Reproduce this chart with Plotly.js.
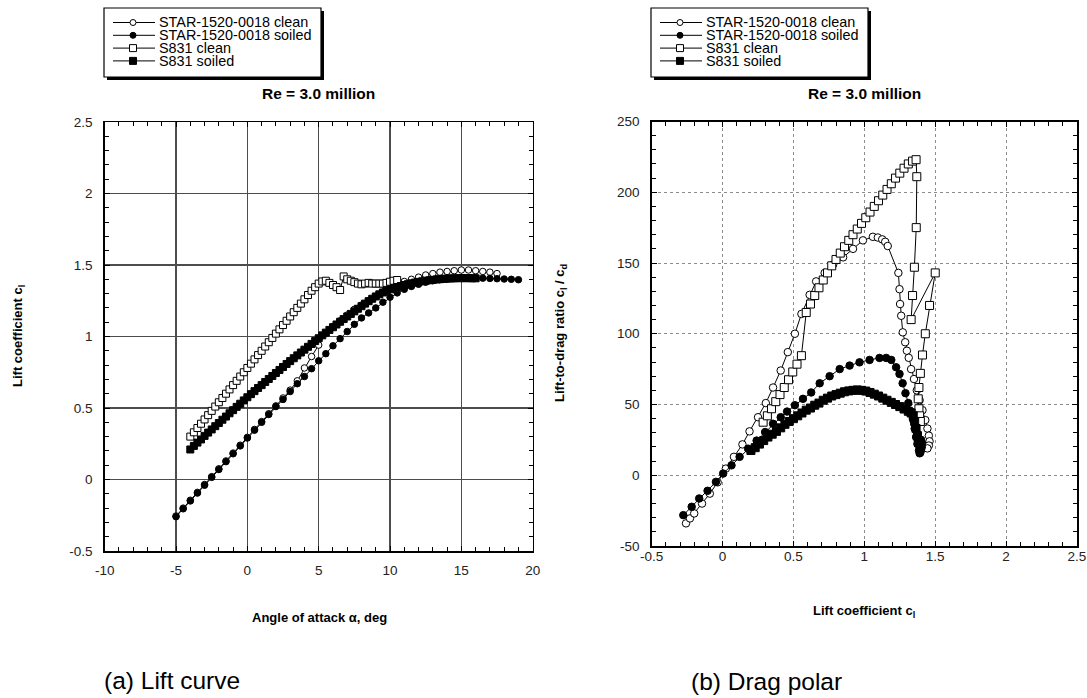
<!DOCTYPE html>
<html><head><meta charset="utf-8">
<script src="https://cdn.plot.ly/plotly-3.0.1.min.js"></script>
<style>html,body{margin:0;padding:0;background:#fff}#chart{width:1087px;height:698px}</style>
</head><body><div id="chart"></div>
<script>
// ---------------- DATA ----------------
const seriesNames = ['STAR-1520-0018 clean', 'STAR-1520-0018 soiled', 'S831 clean', 'S831 soiled'];

// (a) Lift curve: angle of attack (deg) vs lift coefficient
const alphaStarClean = [-5,-4.5,-4,-3.5,-3,-2.5,-2,-1.5,-1,-0.5,0,0.5,1,1.5,2,2.5,3,3.5,4,4.5,5,5.5,6,6.5,7,7.5,8,8.5,9,9.5,10,10.5,11,11.5,12,12.5,13,13.5,14,14.5,15,15.5,16,16.5,17,17.5];
const clStarClean = [-0.255,-0.2,-0.145,-0.09,-0.035,0.02,0.075,0.13,0.185,0.24,0.295,0.35,0.405,0.46,0.515,0.57,0.625,0.69,0.78,0.86,0.94,1.02,1.07,1.11,1.15,1.19,1.22,1.25,1.28,1.31,1.34,1.365,1.385,1.40,1.415,1.43,1.44,1.45,1.455,1.46,1.465,1.465,1.46,1.455,1.45,1.44];

const alphaStarSoiled = [-5,-4.5,-4,-3.5,-3,-2.5,-2,-1.5,-1,-0.5,0,0.5,1,1.5,2,2.5,3,3.5,4,4.5,5,5.5,6,6.5,7,7.5,8,8.5,9,9.5,10,10.5,11,11.5,12,12.5,13,13.5,14,14.5,15,15.5,16,16.5,17,17.5,18,18.5,19];
const clStarSoiled = [-0.26,-0.205,-0.15,-0.095,-0.04,0.015,0.07,0.125,0.18,0.235,0.29,0.345,0.4,0.455,0.51,0.56,0.615,0.67,0.72,0.775,0.83,0.88,0.935,0.985,1.035,1.085,1.13,1.165,1.2,1.24,1.275,1.305,1.33,1.35,1.365,1.38,1.39,1.397,1.402,1.406,1.408,1.41,1.41,1.408,1.406,1.404,1.402,1.4,1.397];

const alphaS831Clean = [-4,-3.75,-3.5,-3.25,-3,-2.75,-2.5,-2.25,-2,-1.75,-1.5,-1.25,-1,-0.75,-0.5,-0.25,0,0.25,0.5,0.75,1,1.25,1.5,1.75,2,2.25,2.5,2.75,3,3.25,3.5,3.75,4,4.25,4.5,4.75,5,5.25,5.5,5.75,6,6.25,6.5,6.75,7,7.25,7.5,7.75,8,8.25,8.5,8.75,9,9.25,9.5,9.75,10,10.25,10.5];
const clS831Clean = [0.3,0.33,0.36,0.39,0.42,0.45,0.48,0.51,0.54,0.57,0.6,0.63,0.66,0.69,0.72,0.75,0.78,0.81,0.84,0.87,0.9,0.93,0.96,0.99,1.02,1.05,1.08,1.11,1.14,1.17,1.2,1.23,1.26,1.29,1.32,1.345,1.37,1.385,1.39,1.375,1.36,1.345,1.325,1.42,1.4,1.39,1.38,1.37,1.365,1.37,1.375,1.37,1.37,1.37,1.37,1.375,1.383,1.39,1.395];

const alphaS831Soiled = [-4,-3.75,-3.5,-3.25,-3,-2.75,-2.5,-2.25,-2,-1.75,-1.5,-1.25,-1,-0.75,-0.5,-0.25,0,0.25,0.5,0.75,1,1.25,1.5,1.75,2,2.25,2.5,2.75,3,3.25,3.5,3.75,4,4.25,4.5,4.75,5,5.25,5.5,5.75,6,6.25,6.5,6.75,7,7.25,7.5,7.75,8,8.25,8.5,8.75,9,9.25,9.5,9.75,10,10.25,10.5,10.75,11,11.25,11.5,11.75,12,12.25,12.5,12.75,13,13.25,13.5,13.75,14,14.25,14.5,14.75,15,15.25,15.5,15.75,16];
const clS831Soiled = [0.21,0.235,0.258,0.28,0.305,0.328,0.35,0.373,0.395,0.418,0.44,0.463,0.485,0.508,0.53,0.553,0.575,0.597,0.618,0.64,0.66,0.682,0.703,0.724,0.745,0.766,0.787,0.808,0.828,0.848,0.868,0.888,0.908,0.928,0.948,0.968,0.988,1.008,1.027,1.046,1.065,1.084,1.103,1.122,1.14,1.158,1.176,1.194,1.212,1.23,1.247,1.264,1.28,1.295,1.308,1.32,1.33,1.338,1.346,1.353,1.36,1.366,1.372,1.377,1.382,1.386,1.39,1.393,1.396,1.399,1.401,1.403,1.405,1.406,1.407,1.408,1.408,1.408,1.408,1.407,1.407];

// (b) Drag polar: lift coefficient vs lift-to-drag ratio
const clPolarStarClean = [-0.258,-0.23,-0.2,-0.145,-0.09,-0.035,0.023,0.08,0.14,0.19,0.25,0.305,0.356,0.41,0.46,0.51,0.556,0.614,0.66,0.72,0.78,0.85,0.92,0.99,1.06,1.095,1.126,1.147,1.165,1.24,1.248,1.252,1.26,1.271,1.288,1.3,1.313,1.33,1.35,1.37,1.39,1.41,1.43,1.445,1.455,1.46,1.455,1.445];
const ldStarClean = [-34,-30.5,-27,-20,-13,-5,4.7,13,21.8,31,41,51,62,74,87,100,114,127.5,137,143,149,154,160,166,168.5,168,166.7,165,162,143,131.5,121,112.7,101,94,88,83,75,68,60,53,46,39,33,28,24,21,19];

const clPolarStarSoiled = [-0.277,-0.218,-0.165,-0.106,-0.047,0.004,0.063,0.12,0.18,0.24,0.3,0.356,0.41,0.455,0.51,0.567,0.625,0.685,0.755,0.826,0.896,0.966,1.037,1.107,1.154,1.19,1.224,1.248,1.27,1.29,1.31,1.33,1.345,1.355,1.365,1.375,1.385,1.39,1.395,1.4,1.405,1.405,1.4];
const ldStarSoiled = [-28.2,-22.3,-16.4,-11,-4.7,1.2,7,13,18.8,24.5,30.5,36.4,41,45,49.5,54,58.5,65,70,75,77.5,79.8,81.5,82.9,82.9,81.5,76.3,71.6,65,58,51,45,39,33,27,22,17.5,15.5,16,18,20,23,25];

const clPolarS831Clean = [0.286,0.316,0.345,0.375,0.405,0.435,0.465,0.495,0.525,0.556,0.59,0.62,0.65,0.68,0.71,0.74,0.77,0.8,0.83,0.86,0.89,0.92,0.95,0.98,1.01,1.04,1.07,1.1,1.13,1.16,1.19,1.22,1.25,1.28,1.31,1.34,1.365,1.37,1.366,1.353,1.34,1.33,1.5,1.46,1.43,1.41,1.395,1.385,1.38,1.385,1.39,1.395];
const ldS831Clean = [37.5,42,47,52,57,62,67.5,73,78.5,84.5,115,121,127,132.5,138,143,148,152.5,157,161.5,166,170,174,178,182,186,190,194,198,202,206,210,213.5,217,220,222,223,211,175,147,127,110,143,120,100,85,72,62,54,47,42,38];

const clPolarS831Soiled = [0.2,0.23,0.26,0.29,0.32,0.35,0.38,0.41,0.44,0.47,0.5,0.53,0.56,0.59,0.62,0.65,0.68,0.71,0.74,0.77,0.8,0.83,0.86,0.89,0.92,0.95,0.98,1.01,1.04,1.07,1.1,1.13,1.16,1.19,1.22,1.25,1.28,1.31,1.33,1.345,1.355,1.365,1.375,1.38];
const ldS831Soiled = [17.5,19.5,22,24.5,27,29,31,33.5,36,38,40,42,44,46,47.5,49.5,51,53,54.5,56,57,58,59,59.6,60,60.3,60,59.5,58.5,57.3,56,54.5,53,51.5,50,48.5,46.8,45.2,44,42,38,33,28,24];

// tick labels
const xTickValsA = [-10,-5,0,5,10,15,20];
const xTickTextA = ['-10','-5','0','5','10','15','20'];
const yTickValsA = [-0.5,0,0.5,1,1.5,2,2.5];
const yTickTextA = ['-0.5','0','0.5','1','1.5','2','2.5'];
const xTickValsB = [-0.5,0,0.5,1,1.5,2,2.5];
const xTickTextB = ['-0.5','0','0.5','1','1.5','2','2.5'];
const yTickValsB = [-50,0,50,100,150,200,250];
const yTickTextB = ['-50','0','50','100','150','200','250'];

// ---------------- STYLE / LAYOUT ----------------
const W = 1087, H = 698;
const PX = v => v / W, PY = v => 1 - v / H;
const FONT = 'Liberation Sans, Arial, Helvetica, sans-serif';

const styles = [
  {symbol:'circle', sizeA:6.5, sizeB:7.5, color:'#fff'},
  {symbol:'circle', sizeA:6.5, sizeB:7.5, color:'#000'},
  {symbol:'square', sizeA:7, sizeB:8, color:'#fff'},
  {symbol:'square', sizeA:7, sizeB:8, color:'#000'}
];

function trace(x, y, i, xa, ya) {
  return {
    x: x, y: y, name: seriesNames[i], type: 'scatter', mode: 'lines+markers',
    xaxis: xa, yaxis: ya, showlegend: false, hoverinfo: 'skip',
    line: {color: '#000', width: 1},
    marker: {symbol: styles[i].symbol, size: xa === 'x' ? styles[i].sizeA : styles[i].sizeB,
             color: styles[i].color, line: {color: '#000', width: 1}}
  };
}

const data = [
  trace(alphaStarClean, clStarClean, 0, 'x', 'y'),
  trace(alphaStarSoiled, clStarSoiled, 1, 'x', 'y'),
  trace(alphaS831Clean, clS831Clean, 2, 'x', 'y'),
  trace(alphaS831Soiled, clS831Soiled, 3, 'x', 'y'),
  trace(clPolarStarClean, ldStarClean, 0, 'x2', 'y2'),
  trace(clPolarStarSoiled, ldStarSoiled, 1, 'x2', 'y2'),
  trace(clPolarS831Clean, ldS831Clean, 2, 'x2', 'y2'),
  trace(clPolarS831Soiled, ldS831Soiled, 3, 'x2', 'y2')
];

function axis(extra) {
  return Object.assign({
    showline: true, linecolor: '#000', linewidth: 1.5, mirror: 'allticks',
    ticks: 'inside', ticklen: 5, tickcolor: '#000', tickwidth: 1,
    showgrid: true, zeroline: false, fixedrange: true,
    tickfont: {family: FONT, size: 13.5, color: '#222'}
  }, extra);
}
const gridA = {gridcolor: '#4d4d4d', gridwidth: 1.3};
const gridB = {gridcolor: '#8c8c8c', gridwidth: 1, griddash: 'dot'};
const minor = (d) => ({dtick: d, ticks: 'inside', ticklen: 4, tickcolor: '#000', tickwidth: 1, showgrid: false});

const layout = {
  width: W, height: H, margin: {l: 0, r: 0, t: 0, b: 0},
  paper_bgcolor: '#fff', plot_bgcolor: '#fff', showlegend: false,
  font: {family: FONT, color: '#000'},
  xaxis: axis(Object.assign({domain: [PX(104.7), PX(532.7)], range: [-10, 20], anchor: 'y',
    tickmode: 'array', tickvals: xTickValsA, ticktext: xTickTextA, minor: minor(1), ticklabelstandoff: 6}, gridA)),
  yaxis: axis(Object.assign({domain: [PY(551), PY(122)], range: [-0.5, 2.5], anchor: 'x',
    tickmode: 'array', tickvals: yTickValsA, ticktext: yTickTextA, minor: minor(0.1), ticklabelstandoff: 8}, gridA)),
  xaxis2: axis(Object.assign({domain: [PX(651.7), PX(1077)], range: [-0.5, 2.5], anchor: 'y2',
    tickmode: 'array', tickvals: xTickValsB, ticktext: xTickTextB, minor: minor(0.1), ticklabelstandoff: -3}, gridB)),
  yaxis2: axis(Object.assign({domain: [PY(546), PY(121.5)], range: [-50, 250], anchor: 'x2',
    tickmode: 'array', tickvals: yTickValsB, ticktext: yTickTextB, minor: minor(10), ticklabelstandoff: 8}, gridB)),
  shapes: [],
  annotations: []
};

function ann(text, x, y, opts) {
  layout.annotations.push(Object.assign({
    text: text, x: PX(x), y: PY(y), xref: 'paper', yref: 'paper',
    xanchor: 'center', yanchor: 'middle', showarrow: false,
    font: {family: FONT, size: 13, color: '#000'}
  }, opts || {}));
}

// titles
ann('<b>Re = 3.0 million</b>', 318.7, 93, {font: {family: FONT, size: 15.5, color: '#000'}});
ann('<b>Re = 3.0 million</b>', 864.4, 93, {font: {family: FONT, size: 15.5, color: '#000'}});
// axis titles
ann('<b>Lift coefficient c<sub>l</sub></b>', 19, 336, {textangle: -90});
ann('<b>Angle of attack α, deg</b>', 319, 617);
ann('<b>Lift-to-drag ratio c<sub>l</sub> / c<sub>d</sub></b>', 560, 333, {textangle: -90});
ann('<b>Lift coefficient c<sub>l</sub></b>', 864, 611);
// captions
ann('(a) Lift curve', 171.5, 680, {font: {family: FONT, size: 24.5, color: '#000'}});
ann('(b) Drag polar', 766.5, 681, {font: {family: FONT, size: 24.5, color: '#000'}});

// legends (drawn as boxes with sample symbols)
function legend(left) {
  const top = 8, bottom = 77, right = left + 217;
  layout.shapes.push({type: 'rect', xref: 'paper', yref: 'paper', x0: PX(left + 3), x1: PX(right + 3), y0: PY(bottom + 3), y1: PY(top + 3),
    line: {width: 0}, fillcolor: '#000', layer: 'above'});
  layout.shapes.push({type: 'rect', xref: 'paper', yref: 'paper', x0: PX(left), x1: PX(right), y0: PY(bottom), y1: PY(top),
    line: {width: 1.2, color: '#000'}, fillcolor: '#fff', layer: 'above'});
  const rows = [22.5, 35.3, 48.1, 60.9];
  rows.forEach((ry, i) => {
    layout.shapes.push({type: 'line', xref: 'paper', yref: 'paper', x0: PX(left + 9), x1: PX(left + 51), y0: PY(ry), y1: PY(ry),
      line: {width: 1, color: '#000'}, layer: 'above'});
    const cx = left + 29, r = (i < 2) ? 3 : 3.5;
    layout.shapes.push({type: i < 2 ? 'circle' : 'rect', xref: 'paper', yref: 'paper',
      x0: PX(cx - r), x1: PX(cx + r), y0: PY(ry + r), y1: PY(ry - r),
      line: {width: 1, color: '#000'}, fillcolor: styles[i].color, layer: 'above'});
    ann(seriesNames[i], left + 53, ry, {xanchor: 'left', font: {family: FONT, size: 14.4, color: '#000'}});
  });
}
legend(104);
legend(651);

Plotly.newPlot('chart', data, layout, {displayModeBar: false, staticPlot: true});
</script></body></html>
